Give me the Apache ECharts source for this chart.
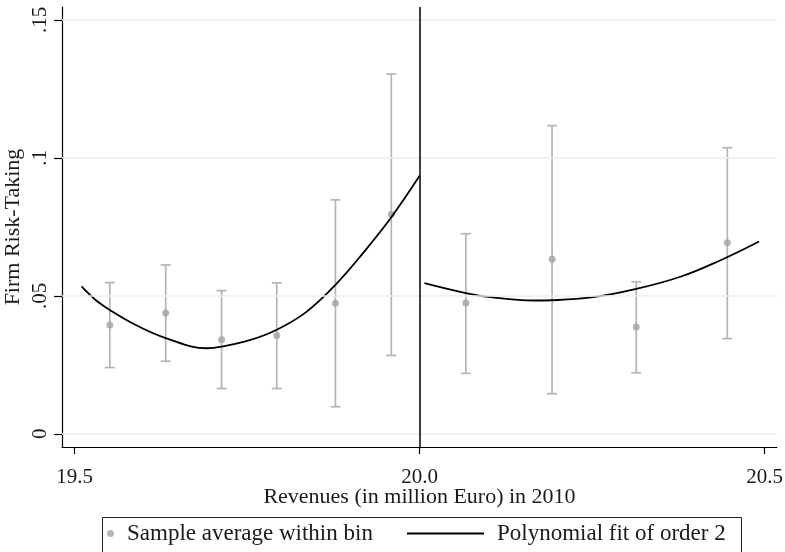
<!DOCTYPE html>
<html>
<head>
<meta charset="utf-8">
<script src="https://cdn.jsdelivr.net/npm/echarts@6/dist/echarts.min.js"></script>
<style>
  html, body { margin: 0; padding: 0; background: #fff; }
  #chart { width: 785px; height: 552px; }
</style>
</head>
<body>
<div id="chart"></div>
<script type="text/javascript">
    // bin averages with confidence bands
    var binX = [19.551, 19.632, 19.713, 19.793, 19.878, 19.959, 20.067, 20.192, 20.314, 20.446];
    var binMean = [0.0394, 0.0438, 0.0341, 0.0356, 0.0473, 0.0796, 0.0474, 0.0633, 0.0387, 0.0692];
    var ciLow = [0.0240, 0.0263, 0.0164, 0.0164, 0.0098, 0.0284, 0.0219, 0.0145, 0.0221, 0.0345];
    var ciHigh = [0.0548, 0.0612, 0.0519, 0.0547, 0.0848, 0.1304, 0.0725, 0.1117, 0.0551, 0.1037];

    var fitLeftX = [19.510, 19.530, 19.551, 19.588, 19.632, 19.692, 19.713, 19.755, 19.793, 19.835, 19.878, 19.918, 19.959, 20.000];
    var fitLeftY = [0.0534, 0.0486, 0.0449, 0.0395, 0.0347, 0.0310, 0.0316, 0.0340, 0.0377, 0.0440, 0.0540, 0.0655, 0.0785, 0.0935];
    var fitRightX = [20.007, 20.067, 20.103, 20.166, 20.192, 20.249, 20.314, 20.379, 20.437, 20.492];
    var fitRightY = [0.0546, 0.0510, 0.0495, 0.0483, 0.0484, 0.0494, 0.0525, 0.0570, 0.0630, 0.0697];

    var xTicks = [19.5, 20.0, 20.5];
    var yTicks = [0, 0.05, 0.1, 0.15];
    var cutoff = 20.0;

    var font = 'Liberation Serif';
    var textColor = '#1a1a1a';

    function zip(a, b) {
        var out = [];
        for (var i = 0; i < a.length; i++) out.push([a[i], b[i]]);
        return out;
    }

    var barData = [];
    for (var i = 0; i < binX.length; i++) {
        barData.push([binX[i], ciLow[i], ciHigh[i]]);
    }

    var gridLines = [];
    for (var i = 0; i < yTicks.length; i++) gridLines.push({ yAxis: yTicks[i] });

    var chart = echarts.init(document.getElementById('chart'));

    option = {
        backgroundColor: '#fff',
        animation: false,
        textStyle: { fontFamily: font },
        grid: { left: 62, right: 8, top: 7, bottom: 105, containLabel: false, outerBoundsMode: 'none' },
        xAxis: {
            type: 'value',
            min: 19.4817,
            max: 20.518,
            name: 'Revenues (in million Euro) in 2010',
            nameLocation: 'middle',
            nameGap: 39,
            nameMoveOverlap: false,
            nameTextStyle: { fontFamily: font, fontSize: 22, color: textColor },
            axisLine: { show: true, onZero: false, lineStyle: { color: '#000', width: 1.2 } },
            axisTick: { show: true, length: 7, customValues: xTicks, lineStyle: { color: '#000', width: 1.2 } },
            axisLabel: {
                customValues: xTicks,
                margin: 20,
                fontFamily: font, fontSize: 21, color: textColor,
                formatter: function (v) { return v.toFixed(1); }
            },
            splitLine: { show: false }
        },
        yAxis: {
            type: 'value',
            min: -0.0048,
            max: 0.1547,
            name: 'Firm Risk-Taking',
            nameLocation: 'middle',
            nameRotate: 90,
            nameGap: 38,
            nameMoveOverlap: false,
            nameTextStyle: { fontFamily: font, fontSize: 22, color: textColor },
            axisLine: { show: true, onZero: false, lineStyle: { color: '#000', width: 1.2 } },
            axisTick: { show: true, length: 8, customValues: yTicks, lineStyle: { color: '#000', width: 1.2 } },
            axisLabel: {
                customValues: yTicks,
                rotate: 90,
                margin: 11,
                fontFamily: font, fontSize: 21, color: textColor,
                formatter: function (v) {
                    if (v === 0) return '0';
                    return String(v).replace('0.', '.');
                }
            },
            splitLine: { show: false }
        },
        legend: [
            {
                data: [{ name: 'Sample average within bin', icon: 'circle' }],
                left: 107, top: 522,
                itemWidth: 7, itemHeight: 7,
                padding: 0,
                textStyle: { fontFamily: font, fontSize: 23, color: textColor, padding: [0, 0, 0, 8] },
                selectedMode: false
            },
            {
                data: [{ name: 'Polynomial fit of order 2', icon: 'rect' }],
                left: 407, top: 522,
                itemWidth: 77, itemHeight: 2,
                padding: 0,
                textStyle: { fontFamily: font, fontSize: 23, color: textColor, padding: [0, 0, 0, 8] },
                selectedMode: false
            }
        ],
        graphic: [
            {
                type: 'rect',
                left: 100, top: 515,
                shape: { width: 639, height: 36 },
                style: { fill: 'none', stroke: '#222', lineWidth: 1 },
                silent: true
            }
        ],
        series: [
            {
                name: 'grid',
                type: 'line',
                data: [],
                z: 0,
                silent: true,
                markLine: {
                    symbol: 'none',
                    silent: true,
                    label: { show: false },
                    lineStyle: { color: '#e4eef0', width: 1.5, type: 'solid' },
                    data: gridLines
                }
            },
            {
                name: 'ci',
                type: 'custom',
                z: 2,
                silent: true,
                data: barData,
                renderItem: function (params, api) {
                    var x = api.value(0);
                    var lo = api.coord([x, api.value(1)]);
                    var hi = api.coord([x, api.value(2)]);
                    var cap = 5;
                    var st = { stroke: '#b4b4b4', lineWidth: 1.7 };
                    return {
                        type: 'group',
                        children: [
                            { type: 'line', shape: { x1: lo[0], y1: lo[1], x2: hi[0], y2: hi[1] }, style: st },
                            { type: 'line', shape: { x1: lo[0] - cap, y1: lo[1], x2: lo[0] + cap, y2: lo[1] }, style: st },
                            { type: 'line', shape: { x1: hi[0] - cap, y1: hi[1], x2: hi[0] + cap, y2: hi[1] }, style: st }
                        ]
                    };
                }
            },
            {
                name: 'Sample average within bin',
                type: 'scatter',
                z: 3,
                symbol: 'circle',
                symbolSize: 7,
                itemStyle: { color: '#a3a3a3' },
                data: zip(binX, binMean)
            },
            {
                name: 'Polynomial fit of order 2',
                type: 'line',
                z: 4,
                smooth: 0.4,
                symbol: 'none',
                lineStyle: { color: '#000', width: 1.8 },
                itemStyle: { color: '#000' },
                data: zip(fitLeftX, fitLeftY),
                markLine: {
                    symbol: 'none',
                    silent: true,
                    label: { show: false },
                    lineStyle: { color: '#000', width: 1.5, type: 'solid' },
                    data: [{ xAxis: cutoff }]
                }
            },
            {
                name: 'Polynomial fit of order 2',
                type: 'line',
                z: 4,
                smooth: 0.4,
                symbol: 'none',
                lineStyle: { color: '#000', width: 1.8 },
                itemStyle: { color: '#000' },
                data: zip(fitRightX, fitRightY)
            }
        ]
    };

    chart.setOption(option);
</script>
</body>
</html>
